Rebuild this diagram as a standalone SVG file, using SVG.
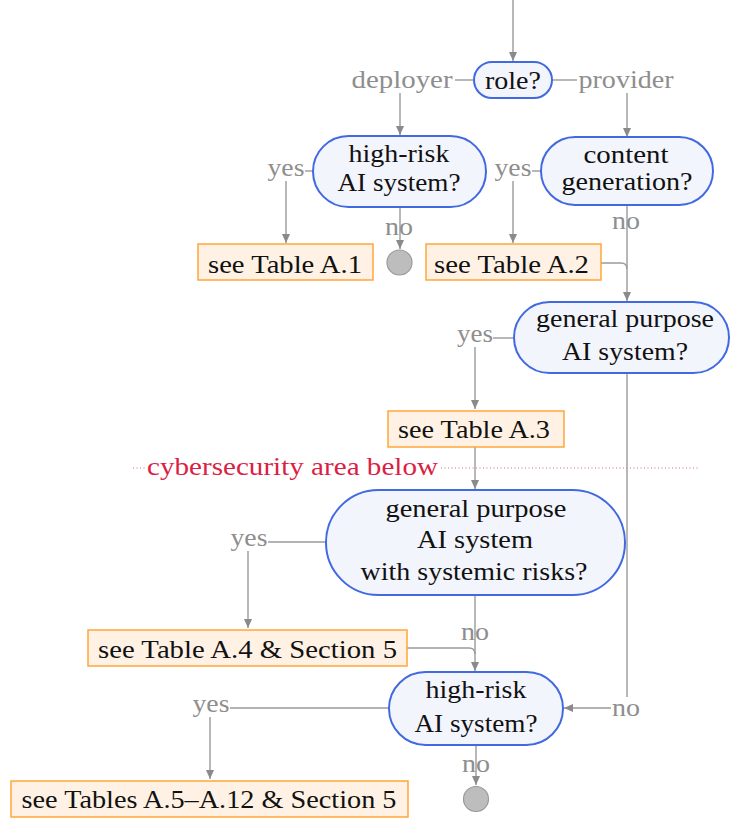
<svg xmlns="http://www.w3.org/2000/svg" width="730" height="818" viewBox="0 0 730 818">
<style>
text{font-family:"Liberation Serif","Times New Roman",serif;font-size:26px;text-anchor:middle}
.t{fill:#111}
.l{fill:#8e8e8e}
.r{fill:#dc1e44}
.n{fill:#f3f5fd;stroke:#4169e1;stroke-width:2}
.b{fill:#fff2e4;stroke:#ffa63a;stroke-width:1.5}
.c{fill:#bdbdbd;stroke:#9a9a9a;stroke-width:1.2}
.e{fill:none;stroke:#9a9a9a;stroke-width:1.4}
.a{marker-end:url(#ah)}
.d{fill:none;stroke:#e8607a;stroke-width:1.2;stroke-dasharray:1 2.5}
</style>
<defs>
<marker id="ah" markerUnits="userSpaceOnUse" markerWidth="10" markerHeight="10" refX="9" refY="4" orient="auto">
<path d="M0,0 L9,4 L0,8 z" fill="#8a8a8a"/>
</marker>
</defs>
<g id="connectors">
<path class="e a" d="M513,0 V61"/>
<path class="e" d="M455,80 H474"/>
<path class="e" d="M552,80 H577"/>
<path class="e a" d="M400,93 V135"/>
<path class="e a" d="M627,93 V137"/>
<path class="e" d="M305,171 H313"/>
<path class="e a" d="M286,181 V243"/>
<path class="e" d="M532,171 H541"/>
<path class="e a" d="M513,181 V243"/>
<path class="e a" d="M400,207 V249"/>
<path class="e a" d="M627,205 V301"/>
<path class="e" d="M601,263 H621 Q627,263 627,269"/>
<path class="e" d="M493,338 H514"/>
<path class="e a" d="M475,347 V409"/>
<path class="e a" d="M475,447 V489"/>
<path class="e" d="M268,542 H326"/>
<path class="e a" d="M248,551 V628"/>
<path class="e a" d="M475,595 V671"/>
<path class="e" d="M407,648 H469 Q475,648 475,654"/>
<path class="e" d="M627,373 V697"/>
<path class="e a" d="M611,708 H564"/>
<path class="e" d="M230,708 H389"/>
<path class="e a" d="M210,717 V779"/>
<path class="e a" d="M476,745 V785"/>
<text class="l" x="402" y="88" textLength="101" lengthAdjust="spacingAndGlyphs">deployer</text>
<text class="l" x="626" y="88" textLength="95" lengthAdjust="spacingAndGlyphs">provider</text>
<text class="l" x="286" y="176" textLength="37" lengthAdjust="spacingAndGlyphs">yes</text>
<text class="l" x="513" y="176" textLength="37" lengthAdjust="spacingAndGlyphs">yes</text>
<text class="l" x="399" y="235" textLength="28" lengthAdjust="spacingAndGlyphs">no</text>
<text class="l" x="626" y="229" textLength="28" lengthAdjust="spacingAndGlyphs">no</text>
<text class="l" x="475" y="342" textLength="36" lengthAdjust="spacingAndGlyphs">yes</text>
<text class="l" x="249" y="546" textLength="37" lengthAdjust="spacingAndGlyphs">yes</text>
<text class="l" x="475" y="640" textLength="28" lengthAdjust="spacingAndGlyphs">no</text>
<text class="l" x="626" y="716" textLength="28" lengthAdjust="spacingAndGlyphs">no</text>
<text class="l" x="211" y="712" textLength="37" lengthAdjust="spacingAndGlyphs">yes</text>
<text class="l" x="476" y="772" textLength="28" lengthAdjust="spacingAndGlyphs">no</text>
</g>
<g id="cyber">
<path class="d" d="M133,468 H145"/>
<path class="d" d="M441,468 H700"/>
<text class="r" x="292.5" y="475" textLength="291" lengthAdjust="spacingAndGlyphs">cybersecurity area below</text>
</g>
<g id="role">
<rect class="n" x="474" y="62" width="78" height="36" rx="18"/>
<text class="t" x="513" y="89" textLength="56" lengthAdjust="spacingAndGlyphs">role?</text>
</g>
<g id="highrisk1">
<rect class="n" x="313" y="136" width="173" height="71" rx="35.5"/>
<text class="t" x="399" y="162" textLength="101" lengthAdjust="spacingAndGlyphs">high-risk</text>
<text class="t" x="399" y="191" textLength="123" lengthAdjust="spacingAndGlyphs">AI system?</text>
</g>
<g id="content">
<rect class="n" x="541" y="137" width="172" height="68" rx="34"/>
<text class="t" x="626" y="163" textLength="85" lengthAdjust="spacingAndGlyphs">content</text>
<text class="t" x="627" y="190" textLength="131" lengthAdjust="spacingAndGlyphs">generation?</text>
</g>
<g id="tableA1">
<rect class="b" x="198" y="244" width="175" height="36"/>
<text class="t" x="285" y="273" textLength="154" lengthAdjust="spacingAndGlyphs">see Table A.1</text>
</g>
<g id="end1">
<circle class="c" cx="399.5" cy="262.5" r="12.5"/>
</g>
<g id="tableA2">
<rect class="b" x="426" y="244" width="175" height="36"/>
<text class="t" x="511.5" y="273" textLength="155" lengthAdjust="spacingAndGlyphs">see Table A.2</text>
</g>
<g id="gpai">
<rect class="n" x="514" y="302" width="215" height="71" rx="35.5"/>
<text class="t" x="625" y="327" textLength="178" lengthAdjust="spacingAndGlyphs">general purpose</text>
<text class="t" x="625" y="360" textLength="126" lengthAdjust="spacingAndGlyphs">AI system?</text>
</g>
<g id="tableA3">
<rect class="b" x="388" y="411" width="176" height="36"/>
<text class="t" x="474" y="438" textLength="152" lengthAdjust="spacingAndGlyphs">see Table A.3</text>
</g>
<g id="systemic">
<rect class="n" x="326" y="490" width="299" height="105" rx="52.5"/>
<text class="t" x="476" y="517" textLength="181" lengthAdjust="spacingAndGlyphs">general purpose</text>
<text class="t" x="475" y="548" textLength="116" lengthAdjust="spacingAndGlyphs">AI system</text>
<text class="t" x="474" y="580" textLength="227" lengthAdjust="spacingAndGlyphs">with systemic risks?</text>
</g>
<g id="tableA4">
<rect class="b" x="88" y="630" width="319" height="36"/>
<text class="t" x="247.5" y="658" textLength="299" lengthAdjust="spacingAndGlyphs">see Table A.4 &amp; Section 5</text>
</g>
<g id="highrisk2">
<rect class="n" x="389" y="672" width="174" height="73" rx="36.5"/>
<text class="t" x="476" y="698" textLength="101" lengthAdjust="spacingAndGlyphs">high-risk</text>
<text class="t" x="476" y="732" textLength="123" lengthAdjust="spacingAndGlyphs">AI system?</text>
</g>
<g id="tableA5">
<rect class="b" x="11" y="781" width="397" height="36"/>
<text class="t" x="209" y="808" textLength="375" lengthAdjust="spacingAndGlyphs">see Tables A.5–A.12 &amp; Section 5</text>
</g>
<g id="end2">
<circle class="c" cx="476" cy="799" r="12.5"/>
</g>
</svg>
